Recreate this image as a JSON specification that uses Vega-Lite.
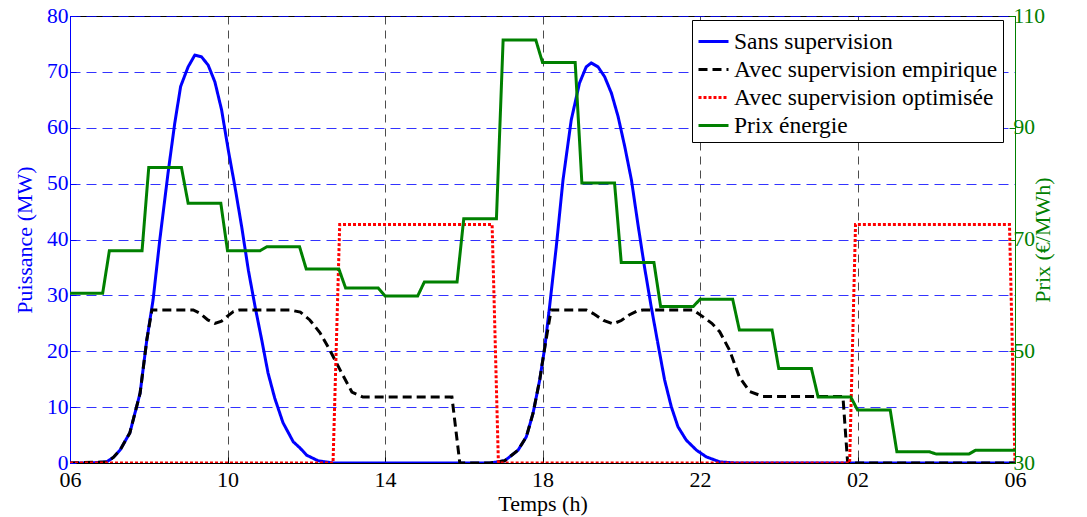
{
  "$schema": "https://vega.github.io/schema/vega-lite/v6.json",
  "width": 945,
  "height": 447,
  "autosize": "none",
  "padding": {"left": 70, "top": 16, "right": 72, "bottom": 54},
  "background": "white",
  "config": {
    "font": "Liberation Serif",
    "view": {"stroke": "black", "strokeWidth": 1},
    "axis": {"labelFont": "Liberation Serif", "titleFont": "Liberation Serif", "labelFontSize": 22, "titleFontSize": 22, "titleFontWeight": "normal", "labelFlush": false},
    "axisY": {"labelFontSize": 21.5},
    "legend": {
      "orient": "none", "legendX": 622, "legendY": 4,
      "fillColor": "white", "strokeColor": "black", "padding": 5,
      "labelFont": "Liberation Serif", "labelFontSize": 23.5, "labelColor": "black",
      "symbolType": "stroke", "symbolSize": 900, "symbolStrokeWidth": 3,
      "labelLimit": 400, "rowPadding": -1, "labelOffset": 4
    }
  },
  "datasets": {
    "puissance": [
      {"h": 6, "v": 0, "serie": "Sans supervision"},
      {"h": 6.5, "v": 0, "serie": "Sans supervision"},
      {"h": 6.93, "v": 0.2, "serie": "Sans supervision"},
      {"h": 7.1, "v": 1.0, "serie": "Sans supervision"},
      {"h": 7.27, "v": 2.3, "serie": "Sans supervision"},
      {"h": 7.52, "v": 5.4, "serie": "Sans supervision"},
      {"h": 7.78, "v": 12.5, "serie": "Sans supervision"},
      {"h": 7.95, "v": 22, "serie": "Sans supervision"},
      {"h": 8.11, "v": 29.2, "serie": "Sans supervision"},
      {"h": 8.28, "v": 39.9, "serie": "Sans supervision"},
      {"h": 8.49, "v": 51.9, "serie": "Sans supervision"},
      {"h": 8.66, "v": 60.8, "serie": "Sans supervision"},
      {"h": 8.81, "v": 67.4, "serie": "Sans supervision"},
      {"h": 9.0, "v": 70.9, "serie": "Sans supervision"},
      {"h": 9.17, "v": 73.0, "serie": "Sans supervision"},
      {"h": 9.34, "v": 72.7, "serie": "Sans supervision"},
      {"h": 9.51, "v": 71.2, "serie": "Sans supervision"},
      {"h": 9.68, "v": 68.2, "serie": "Sans supervision"},
      {"h": 9.85, "v": 63.2, "serie": "Sans supervision"},
      {"h": 10.02, "v": 56.0, "serie": "Sans supervision"},
      {"h": 10.19, "v": 49.4, "serie": "Sans supervision"},
      {"h": 10.36, "v": 42.3, "serie": "Sans supervision"},
      {"h": 10.53, "v": 34.5, "serie": "Sans supervision"},
      {"h": 10.70, "v": 28.0, "serie": "Sans supervision"},
      {"h": 10.87, "v": 22.0, "serie": "Sans supervision"},
      {"h": 11.03, "v": 16.1, "serie": "Sans supervision"},
      {"h": 11.20, "v": 11.6, "serie": "Sans supervision"},
      {"h": 11.41, "v": 7.2, "serie": "Sans supervision"},
      {"h": 11.67, "v": 3.8, "serie": "Sans supervision"},
      {"h": 11.84, "v": 2.7, "serie": "Sans supervision"},
      {"h": 12.01, "v": 1.4, "serie": "Sans supervision"},
      {"h": 12.3, "v": 0.4, "serie": "Sans supervision"},
      {"h": 12.68, "v": 0, "serie": "Sans supervision"},
      {"h": 16.66, "v": 0, "serie": "Sans supervision"},
      {"h": 17.04, "v": 0.4, "serie": "Sans supervision"},
      {"h": 17.38, "v": 2.3, "serie": "Sans supervision"},
      {"h": 17.59, "v": 4.7, "serie": "Sans supervision"},
      {"h": 17.76, "v": 8.9, "serie": "Sans supervision"},
      {"h": 17.93, "v": 14.9, "serie": "Sans supervision"},
      {"h": 18.06, "v": 20.8, "serie": "Sans supervision"},
      {"h": 18.18, "v": 28.0, "serie": "Sans supervision"},
      {"h": 18.35, "v": 38.7, "serie": "Sans supervision"},
      {"h": 18.52, "v": 50.6, "serie": "Sans supervision"},
      {"h": 18.73, "v": 61.4, "serie": "Sans supervision"},
      {"h": 18.94, "v": 68.0, "serie": "Sans supervision"},
      {"h": 19.11, "v": 70.9, "serie": "Sans supervision"},
      {"h": 19.24, "v": 71.6, "serie": "Sans supervision"},
      {"h": 19.41, "v": 70.9, "serie": "Sans supervision"},
      {"h": 19.58, "v": 69.1, "serie": "Sans supervision"},
      {"h": 19.75, "v": 66.2, "serie": "Sans supervision"},
      {"h": 19.92, "v": 62.0, "serie": "Sans supervision"},
      {"h": 20.09, "v": 56.6, "serie": "Sans supervision"},
      {"h": 20.26, "v": 50.6, "serie": "Sans supervision"},
      {"h": 20.42, "v": 42.9, "serie": "Sans supervision"},
      {"h": 20.59, "v": 35.1, "serie": "Sans supervision"},
      {"h": 20.76, "v": 28.0, "serie": "Sans supervision"},
      {"h": 20.93, "v": 21.4, "serie": "Sans supervision"},
      {"h": 21.10, "v": 14.9, "serie": "Sans supervision"},
      {"h": 21.27, "v": 10.1, "serie": "Sans supervision"},
      {"h": 21.44, "v": 6.5, "serie": "Sans supervision"},
      {"h": 21.65, "v": 4.1, "serie": "Sans supervision"},
      {"h": 21.91, "v": 2.3, "serie": "Sans supervision"},
      {"h": 22.16, "v": 1.1, "serie": "Sans supervision"},
      {"h": 22.5, "v": 0.2, "serie": "Sans supervision"},
      {"h": 22.9, "v": 0, "serie": "Sans supervision"},
      {"h": 30, "v": 0, "serie": "Sans supervision"},

      {"h": 6, "v": 0, "serie": "Avec supervision empirique"},
      {"h": 6.93, "v": 0.2, "serie": "Avec supervision empirique"},
      {"h": 7.1, "v": 1.0, "serie": "Avec supervision empirique"},
      {"h": 7.27, "v": 2.3, "serie": "Avec supervision empirique"},
      {"h": 7.52, "v": 5.4, "serie": "Avec supervision empirique"},
      {"h": 7.78, "v": 12.5, "serie": "Avec supervision empirique"},
      {"h": 7.95, "v": 22, "serie": "Avec supervision empirique"},
      {"h": 8.08, "v": 27.4, "serie": "Avec supervision empirique"},
      {"h": 9.13, "v": 27.4, "serie": "Avec supervision empirique"},
      {"h": 9.3, "v": 26.8, "serie": "Avec supervision empirique"},
      {"h": 9.5, "v": 25.6, "serie": "Avec supervision empirique"},
      {"h": 9.68, "v": 25.0, "serie": "Avec supervision empirique"},
      {"h": 9.85, "v": 25.4, "serie": "Avec supervision empirique"},
      {"h": 10.0, "v": 26.3, "serie": "Avec supervision empirique"},
      {"h": 10.15, "v": 27.1, "serie": "Avec supervision empirique"},
      {"h": 10.31, "v": 27.4, "serie": "Avec supervision empirique"},
      {"h": 11.58, "v": 27.4, "serie": "Avec supervision empirique"},
      {"h": 11.85, "v": 27.0, "serie": "Avec supervision empirique"},
      {"h": 12.09, "v": 25.6, "serie": "Avec supervision empirique"},
      {"h": 12.35, "v": 23.3, "serie": "Avec supervision empirique"},
      {"h": 12.6, "v": 20.2, "serie": "Avec supervision empirique"},
      {"h": 12.9, "v": 16.1, "serie": "Avec supervision empirique"},
      {"h": 13.16, "v": 12.7, "serie": "Avec supervision empirique"},
      {"h": 13.44, "v": 11.8, "serie": "Avec supervision empirique"},
      {"h": 15.7, "v": 11.8, "serie": "Avec supervision empirique"},
      {"h": 15.9, "v": 0, "serie": "Avec supervision empirique"},
      {"h": 16.66, "v": 0, "serie": "Avec supervision empirique"},
      {"h": 17.04, "v": 0.4, "serie": "Avec supervision empirique"},
      {"h": 17.38, "v": 2.3, "serie": "Avec supervision empirique"},
      {"h": 17.59, "v": 4.7, "serie": "Avec supervision empirique"},
      {"h": 17.76, "v": 8.9, "serie": "Avec supervision empirique"},
      {"h": 17.93, "v": 14.9, "serie": "Avec supervision empirique"},
      {"h": 18.06, "v": 20.8, "serie": "Avec supervision empirique"},
      {"h": 18.22, "v": 27.4, "serie": "Avec supervision empirique"},
      {"h": 19.11, "v": 27.4, "serie": "Avec supervision empirique"},
      {"h": 19.3, "v": 26.7, "serie": "Avec supervision empirique"},
      {"h": 19.55, "v": 25.5, "serie": "Avec supervision empirique"},
      {"h": 19.79, "v": 24.9, "serie": "Avec supervision empirique"},
      {"h": 20.0, "v": 25.5, "serie": "Avec supervision empirique"},
      {"h": 20.2, "v": 26.5, "serie": "Avec supervision empirique"},
      {"h": 20.4, "v": 27.2, "serie": "Avec supervision empirique"},
      {"h": 20.55, "v": 27.4, "serie": "Avec supervision empirique"},
      {"h": 21.82, "v": 27.4, "serie": "Avec supervision empirique"},
      {"h": 22.07, "v": 26.2, "serie": "Avec supervision empirique"},
      {"h": 22.3, "v": 25.0, "serie": "Avec supervision empirique"},
      {"h": 22.5, "v": 23.5, "serie": "Avec supervision empirique"},
      {"h": 22.75, "v": 20.2, "serie": "Avec supervision empirique"},
      {"h": 23.0, "v": 15.4, "serie": "Avec supervision empirique"},
      {"h": 23.26, "v": 12.8, "serie": "Avec supervision empirique"},
      {"h": 23.6, "v": 11.9, "serie": "Avec supervision empirique"},
      {"h": 25.63, "v": 11.9, "serie": "Avec supervision empirique"},
      {"h": 25.75, "v": 0, "serie": "Avec supervision empirique"},
      {"h": 30, "v": 0, "serie": "Avec supervision empirique"},

      {"h": 6, "v": 0, "serie": "Avec supervision optimisée"},
      {"h": 12.68, "v": 0, "serie": "Avec supervision optimisée"},
      {"h": 12.85, "v": 42.7, "serie": "Avec supervision optimisée"},
      {"h": 16.72, "v": 42.7, "serie": "Avec supervision optimisée"},
      {"h": 16.88, "v": 0, "serie": "Avec supervision optimisée"},
      {"h": 25.8, "v": 0, "serie": "Avec supervision optimisée"},
      {"h": 25.95, "v": 42.7, "serie": "Avec supervision optimisée"},
      {"h": 29.86, "v": 42.7, "serie": "Avec supervision optimisée"},
      {"h": 30, "v": 0, "serie": "Avec supervision optimisée"}
    ],
    "prix": [
      {"h": 6, "prix": 60.4, "serie": "Prix énergie"},
      {"h": 6.83, "prix": 60.4, "serie": "Prix énergie"},
      {"h": 7, "prix": 68, "serie": "Prix énergie"},
      {"h": 7.83, "prix": 68, "serie": "Prix énergie"},
      {"h": 8, "prix": 82.9, "serie": "Prix énergie"},
      {"h": 8.83, "prix": 82.9, "serie": "Prix énergie"},
      {"h": 9, "prix": 76.5, "serie": "Prix énergie"},
      {"h": 9.83, "prix": 76.5, "serie": "Prix énergie"},
      {"h": 10, "prix": 68, "serie": "Prix énergie"},
      {"h": 10.83, "prix": 68, "serie": "Prix énergie"},
      {"h": 11, "prix": 68.7, "serie": "Prix énergie"},
      {"h": 11.83, "prix": 68.7, "serie": "Prix énergie"},
      {"h": 12, "prix": 64.7, "serie": "Prix énergie"},
      {"h": 12.83, "prix": 64.7, "serie": "Prix énergie"},
      {"h": 13, "prix": 61.3, "serie": "Prix énergie"},
      {"h": 13.83, "prix": 61.3, "serie": "Prix énergie"},
      {"h": 14, "prix": 59.9, "serie": "Prix énergie"},
      {"h": 14.83, "prix": 59.9, "serie": "Prix énergie"},
      {"h": 15, "prix": 62.4, "serie": "Prix énergie"},
      {"h": 15.83, "prix": 62.4, "serie": "Prix énergie"},
      {"h": 16, "prix": 73.7, "serie": "Prix énergie"},
      {"h": 16.83, "prix": 73.7, "serie": "Prix énergie"},
      {"h": 17, "prix": 105.7, "serie": "Prix énergie"},
      {"h": 17.83, "prix": 105.7, "serie": "Prix énergie"},
      {"h": 18, "prix": 101.7, "serie": "Prix énergie"},
      {"h": 18.83, "prix": 101.7, "serie": "Prix énergie"},
      {"h": 19, "prix": 80.1, "serie": "Prix énergie"},
      {"h": 19.83, "prix": 80.1, "serie": "Prix énergie"},
      {"h": 20, "prix": 65.9, "serie": "Prix énergie"},
      {"h": 20.83, "prix": 65.9, "serie": "Prix énergie"},
      {"h": 21, "prix": 58.0, "serie": "Prix énergie"},
      {"h": 21.83, "prix": 58.0, "serie": "Prix énergie"},
      {"h": 22, "prix": 59.3, "serie": "Prix énergie"},
      {"h": 22.83, "prix": 59.3, "serie": "Prix énergie"},
      {"h": 23, "prix": 53.8, "serie": "Prix énergie"},
      {"h": 23.83, "prix": 53.8, "serie": "Prix énergie"},
      {"h": 24, "prix": 46.9, "serie": "Prix énergie"},
      {"h": 24.83, "prix": 46.9, "serie": "Prix énergie"},
      {"h": 25, "prix": 41.8, "serie": "Prix énergie"},
      {"h": 25.83, "prix": 41.8, "serie": "Prix énergie"},
      {"h": 26, "prix": 39.5, "serie": "Prix énergie"},
      {"h": 26.83, "prix": 39.5, "serie": "Prix énergie"},
      {"h": 27, "prix": 32.0, "serie": "Prix énergie"},
      {"h": 27.83, "prix": 32.0, "serie": "Prix énergie"},
      {"h": 28, "prix": 31.6, "serie": "Prix énergie"},
      {"h": 28.83, "prix": 31.6, "serie": "Prix énergie"},
      {"h": 29, "prix": 32.3, "serie": "Prix énergie"},
      {"h": 30, "prix": 32.3, "serie": "Prix énergie"}
    ]
  },
  "layer": [
    {
      "layer": [
        {
          "data": {"name": "puissance"},
          "transform": [{"filter": "datum.serie === 'Sans supervision'"}],
          "mark": {"type": "line", "strokeWidth": 3, "clip": true},
          "encoding": {
            "x": {"field": "h", "type": "quantitative", "scale": {"domain": [6, 30], "nice": false, "zero": false},
                  "axis": {"values": [6, 10, 14, 18, 22, 26, 30], "labelExpr": "(datum.value % 24 < 10 ? '0' : '') + (datum.value % 24)", "title": "Temps (h)", "grid": true, "gridColor": "black", "gridDash": [8, 6], "gridOpacity": 0.7, "domainColor": "black", "tickColor": "black", "tickSize": -6, "labelColor": "black", "labelPadding": 12, "titlePadding": 3, "titleColor": "black"}},
            "y": {"field": "v", "type": "quantitative", "scale": {"domain": [0, 80], "nice": false},
                  "axis": {"values": [0, 10, 20, 30, 40, 50, 60, 70, 80], "title": "Puissance (MW)", "titleColor": "#0000ff", "labelColor": "#0000ff", "domainColor": "#0000ff", "tickColor": "#0000ff", "grid": true, "gridColor": "#0000ff", "gridDash": [10, 6], "gridOpacity": 0.8, "tickSize": -6, "labelPadding": 8, "titlePadding": 10}},
            "color": {"field": "serie", "type": "nominal", "scale": {"domain": ["Sans supervision", "Avec supervision empirique", "Avec supervision optimisée", "Prix énergie"], "range": ["#0000ff", "#000000", "#ff0000", "#008000"]}, "legend": {"title": null}},
            "strokeDash": {"field": "serie", "type": "nominal", "scale": {"domain": ["Sans supervision", "Avec supervision empirique", "Avec supervision optimisée", "Prix énergie"], "range": [[1, 0], [9, 5], [3, 2], [1, 0]]}, "legend": {"title": null}}
          }
        },
        {
          "data": {"name": "puissance"},
          "transform": [{"filter": "datum.serie === 'Avec supervision empirique'"}],
          "mark": {"type": "line", "strokeWidth": 3, "clip": true},
          "encoding": {
            "x": {"field": "h", "type": "quantitative", "scale": {"domain": [6, 30], "nice": false, "zero": false},
                  "axis": {"values": [6, 10, 14, 18, 22, 26, 30], "labelExpr": "(datum.value % 24 < 10 ? '0' : '') + (datum.value % 24)", "title": "Temps (h)", "grid": true, "gridColor": "black", "gridDash": [8, 6], "gridOpacity": 0.7, "domainColor": "black", "tickColor": "black", "tickSize": -6, "labelColor": "black", "labelPadding": 12, "titlePadding": 3, "titleColor": "black"}},
            "y": {"field": "v", "type": "quantitative", "scale": {"domain": [0, 80], "nice": false},
                  "axis": {"values": [0, 10, 20, 30, 40, 50, 60, 70, 80], "title": "Puissance (MW)", "titleColor": "#0000ff", "labelColor": "#0000ff", "domainColor": "#0000ff", "tickColor": "#0000ff", "grid": true, "gridColor": "#0000ff", "gridDash": [10, 6], "gridOpacity": 0.8, "tickSize": -6, "labelPadding": 8, "titlePadding": 10}},
            "color": {"field": "serie", "type": "nominal", "scale": {"domain": ["Sans supervision", "Avec supervision empirique", "Avec supervision optimisée", "Prix énergie"], "range": ["#0000ff", "#000000", "#ff0000", "#008000"]}, "legend": {"title": null}},
            "strokeDash": {"field": "serie", "type": "nominal", "scale": {"domain": ["Sans supervision", "Avec supervision empirique", "Avec supervision optimisée", "Prix énergie"], "range": [[1, 0], [9, 5], [3, 2], [1, 0]]}, "legend": {"title": null}}
          }
        },
        {
          "data": {"name": "puissance"},
          "transform": [{"filter": "datum.serie === 'Avec supervision optimisée'"}],
          "mark": {"type": "line", "strokeWidth": 3, "clip": true},
          "encoding": {
            "x": {"field": "h", "type": "quantitative", "scale": {"domain": [6, 30], "nice": false, "zero": false},
                  "axis": {"values": [6, 10, 14, 18, 22, 26, 30], "labelExpr": "(datum.value % 24 < 10 ? '0' : '') + (datum.value % 24)", "title": "Temps (h)", "grid": true, "gridColor": "black", "gridDash": [8, 6], "gridOpacity": 0.7, "domainColor": "black", "tickColor": "black", "tickSize": -6, "labelColor": "black", "labelPadding": 12, "titlePadding": 3, "titleColor": "black"}},
            "y": {"field": "v", "type": "quantitative", "scale": {"domain": [0, 80], "nice": false},
                  "axis": {"values": [0, 10, 20, 30, 40, 50, 60, 70, 80], "title": "Puissance (MW)", "titleColor": "#0000ff", "labelColor": "#0000ff", "domainColor": "#0000ff", "tickColor": "#0000ff", "grid": true, "gridColor": "#0000ff", "gridDash": [10, 6], "gridOpacity": 0.8, "tickSize": -6, "labelPadding": 8, "titlePadding": 10}},
            "color": {"field": "serie", "type": "nominal", "scale": {"domain": ["Sans supervision", "Avec supervision empirique", "Avec supervision optimisée", "Prix énergie"], "range": ["#0000ff", "#000000", "#ff0000", "#008000"]}, "legend": {"title": null}},
            "strokeDash": {"field": "serie", "type": "nominal", "scale": {"domain": ["Sans supervision", "Avec supervision empirique", "Avec supervision optimisée", "Prix énergie"], "range": [[1, 0], [9, 5], [3, 2], [1, 0]]}, "legend": {"title": null}}
          }
        }
      ]
    },
    {
      "data": {"name": "prix"},
      "mark": {"type": "line", "strokeWidth": 3, "clip": true},
      "encoding": {
        "x": {"field": "h", "type": "quantitative", "scale": {"domain": [6, 30], "nice": false, "zero": false},
              "axis": {"values": [6, 10, 14, 18, 22, 26, 30], "labelExpr": "(datum.value % 24 < 10 ? '0' : '') + (datum.value % 24)", "title": "Temps (h)", "grid": true, "gridColor": "black", "gridDash": [8, 6], "gridOpacity": 0.7, "domainColor": "black", "tickColor": "black", "tickSize": -6, "labelColor": "black", "labelPadding": 12, "titlePadding": 3, "titleColor": "black"}},
        "y": {"field": "prix", "type": "quantitative", "scale": {"domain": [30, 110], "nice": false, "zero": false},
              "axis": {"orient": "right", "values": [30, 50, 70, 90, 110], "title": "Prix (€/MWh)", "titleAngle": 270, "titleColor": "#008000", "labelColor": "#008000", "domainColor": "#008000", "tickColor": "#008000", "grid": false, "tickSize": -6, "labelPadding": 4, "titlePadding": 10}},
        "color": {"field": "serie", "type": "nominal", "scale": {"domain": ["Sans supervision", "Avec supervision empirique", "Avec supervision optimisée", "Prix énergie"], "range": ["#0000ff", "#000000", "#ff0000", "#008000"]}, "legend": {"title": null}},
        "strokeDash": {"field": "serie", "type": "nominal", "scale": {"domain": ["Sans supervision", "Avec supervision empirique", "Avec supervision optimisée", "Prix énergie"], "range": [[1, 0], [9, 5], [3, 2], [1, 0]]}, "legend": {"title": null}}
      }
    }
  ],
  "resolve": {"scale": {"y": "independent"}}
}
